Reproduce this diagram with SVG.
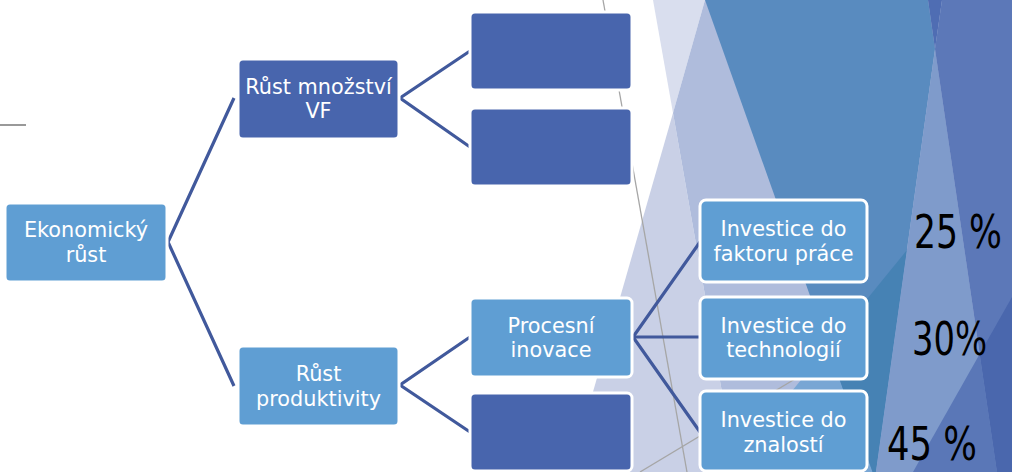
<svg xmlns="http://www.w3.org/2000/svg" width="1012" height="472" viewBox="0 0 1012 472">
  <style>
    .box-l { fill: #5f9ed3; stroke: #ffffff; stroke-width: 3; }
    .box-d { fill: #4865ad; stroke: #ffffff; stroke-width: 3; }
    .lbl { font-family: 'DejaVu Sans', 'Liberation Sans', sans-serif; font-size: 20.8px; fill: #ffffff; text-anchor: middle; }
    .pct { font-family: 'DejaVu Sans Condensed', 'DejaVu Sans', sans-serif; font-size: 47px; fill: #000000; }
    .conn { fill: none; stroke: #41599c; stroke-width: 3.2; stroke-linejoin: miter; }
    .thin { stroke: #a6a6a6; stroke-width: 1.3; fill: none; }
  </style>

  <g id="background">
    <rect x="0" y="0" width="1012" height="472" fill="#ffffff"/>
    <polygon points="673,113 570,472 736,472" fill="#c9d0e6"/>
    <polygon points="653,0 705,0 673,113" fill="#d9deee"/>
    <polygon points="705,0 1012,0 1012,472 736,472 673,113" fill="#afbcdc"/>
    <line class="thin" x1="603" y1="0" x2="687" y2="472"/>
    <line class="thin" x1="640" y1="472" x2="860" y2="340"/>
    <polygon points="907,250 726,472 876,472" fill="#78a6d4"/>
    <polygon points="705,0 928,0 935,49 875.9,472 872.6,472" fill="#598bbf"/>
    <polygon points="907,250 828,347 872.6,472 875.9,472" fill="#4682b4"/>
    <polygon points="928,0 942,0 935,49" fill="#4f6db3"/>
    <polygon points="935,49 875.9,472 997,472" fill="#7f9bcb"/>
    <polygon points="942,0 1012,0 1012,472 997,472 935,49" fill="#5c78b8"/>
    <polygon points="979.7,354 913,472 997,472" fill="#5a77b7"/>
    <polygon points="1012,297 979.7,354 997,472 1012,472" fill="#4a67ad"/>
    <line x1="0" y1="125" x2="26" y2="125" stroke="#999999" stroke-width="2"/>
  </g>

  <g id="connectors">
    <polyline class="conn" points="234,98 168,242 234,386"/>
    <polyline class="conn" points="470,51 400,98 470,147"/>
    <polyline class="conn" points="470,337 400,385 470,432"/>
    <polyline class="conn" points="700,242 633,337 700,432"/>
    <line class="conn" x1="633" y1="337" x2="700" y2="337"/>
  </g>

  <g id="node-ekonomicky-rust">
    <rect class="box-l" x="5" y="203" width="162" height="79" rx="5" stroke="none"/>
    <text class="lbl" x="86" y="237">Ekonomický</text>
    <text class="lbl" x="86" y="262">růst</text>
  </g>

  <g id="node-rust-mnozstvi-vf">
    <rect class="box-d" x="238" y="59" width="161" height="80" rx="5"/>
    <text class="lbl" x="318.5" y="94">Růst množství</text>
    <text class="lbl" x="318.5" y="118">VF</text>
  </g>

  <g id="node-rust-produktivity">
    <rect class="box-l" x="238" y="346" width="161" height="80" rx="5"/>
    <text class="lbl" x="318.5" y="381">Růst</text>
    <text class="lbl" x="318.5" y="406">produktivity</text>
  </g>

  <g id="node-empty-1">
    <rect class="box-d" x="470" y="12" width="162" height="78" rx="5"/>
  </g>

  <g id="node-empty-2">
    <rect class="box-d" x="470" y="108" width="162" height="78" rx="5"/>
  </g>

  <g id="node-procesni-inovace">
    <rect class="box-l" x="470" y="298" width="162" height="79" rx="5"/>
    <text class="lbl" x="551" y="333">Procesní</text>
    <text class="lbl" x="551" y="357">inovace</text>
  </g>

  <g id="node-empty-3">
    <rect class="box-d" x="470" y="393" width="162" height="78" rx="5"/>
  </g>

  <g id="node-investice-prace">
    <rect class="box-l" x="700" y="200" width="167" height="82" rx="6"/>
    <text class="lbl" x="783.5" y="236">Investice do</text>
    <text class="lbl" x="783.5" y="261">faktoru práce</text>
  </g>

  <g id="node-investice-technologie">
    <rect class="box-l" x="700" y="297" width="167" height="82" rx="6"/>
    <text class="lbl" x="783.5" y="333">Investice do</text>
    <text class="lbl" x="783.5" y="357">technologií</text>
  </g>

  <g id="node-investice-znalosti">
    <rect class="box-l" x="700" y="391" width="167" height="80" rx="6"/>
    <text class="lbl" x="783.5" y="427">Investice do</text>
    <text class="lbl" x="783.5" y="452">znalostí</text>
  </g>

  <g id="percentages">
    <text class="pct" x="0" y="0" transform="translate(914 248) scale(0.82 1)" textLength="107.3" lengthAdjust="spacingAndGlyphs">25 %</text>
    <text class="pct" x="0" y="0" transform="translate(912 355) scale(0.8 1)" textLength="93.8" lengthAdjust="spacingAndGlyphs">30%</text>
    <text class="pct" x="0" y="0" transform="translate(887 460) scale(0.84 1)" textLength="107.1" lengthAdjust="spacingAndGlyphs">45 %</text>
  </g>
</svg>
